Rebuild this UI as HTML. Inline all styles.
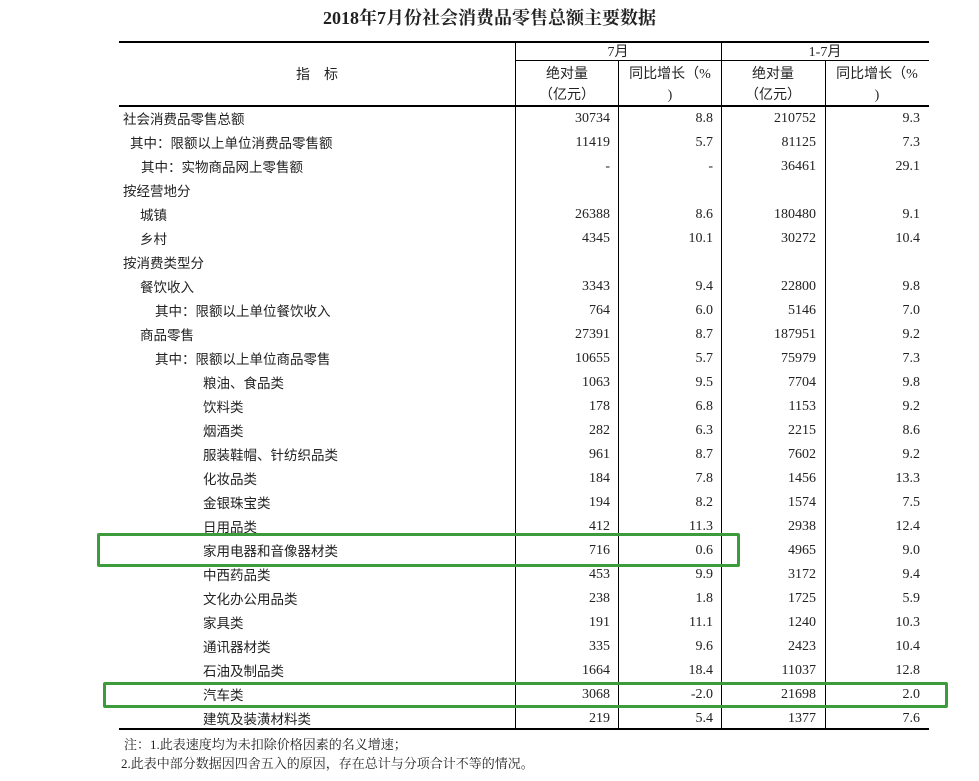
<!DOCTYPE html>
<html><head><meta charset="utf-8"><style>
body{margin:0;width:979px;height:781px;background:#fff;position:relative;overflow:hidden;font-family:"Liberation Serif","Noto Sans CJK SC",serif;color:#222}
.t{position:absolute;white-space:nowrap;font-size:14px;line-height:16px}
.h{position:absolute;background:#000}
.r{text-align:right}
.c{text-align:center}
.box{position:absolute;border:3px solid #3c9c3c;border-radius:2px}
</style></head><body>
<div class="t c" style="left:0;width:979px;top:8px;font-size:18px;line-height:20px;font-weight:bold;font-family:'Liberation Serif','Noto Serif CJK SC',serif">2018年7月份社会消费品零售总额主要数据</div>
<div class="h" style="left:119px;width:810px;top:41px;height:2px"></div>
<div class="h" style="left:515px;width:414px;top:60px;height:1px"></div>
<div class="h" style="left:119px;width:810px;top:105px;height:1.5px"></div>
<div class="h" style="left:119px;width:810px;top:728px;height:2px"></div>
<div class="h" style="left:515px;width:1px;top:42px;height:686px"></div>
<div class="h" style="left:618px;width:1px;top:61px;height:667px"></div>
<div class="h" style="left:721px;width:1px;top:42px;height:686px"></div>
<div class="h" style="left:825px;width:1px;top:61px;height:667px"></div>
<div class="t c" style="left:119px;width:396px;top:66px;font-family:'Noto Sans CJK SC',sans-serif">指　标</div>
<div class="t c" style="left:515px;width:206px;top:45px">7月</div>
<div class="t c" style="left:721px;width:208px;top:45px">1-7月</div>
<div id="hd"></div>
<div id="rows"></div>
<div class="box" style="left:97px;top:533px;width:637px;height:28px"></div>
<div class="box" style="left:103px;top:682px;width:839px;height:20px"></div>
<div class="t" style="left:124px;top:737px;font-size:13px;font-family:'Liberation Serif','Noto Serif CJK SC',serif">注：1.此表速度均为未扣除价格因素的名义增速；</div>
<div class="t" style="left:121px;top:756px;font-size:13px;font-family:'Liberation Serif','Noto Serif CJK SC',serif">2.此表中部分数据因四舍五入的原因，存在总计与分项合计不等的情况。</div>
<script>
var hd='';
[[515,'绝对量','（亿元）'],[618,'同比增长（%',')'],[721,'绝对量','（亿元）'],[825,'同比增长（%',')']].forEach(function(a){
hd+='<div class="t c" style="left:'+a[0]+'px;width:104px;top:67px">'+a[1]+'</div><div class="t c" style="left:'+a[0]+'px;width:104px;top:88px">'+a[2]+'</div>';});
document.getElementById('hd').outerHTML=hd;
var d=[[123,'社会消费品零售总额','30734','8.8','210752','9.3'],
[130,'其中：限额以上单位消费品零售额','11419','5.7','81125','7.3'],
[141,'其中：实物商品网上零售额','-','-','36461','29.1'],
[123,'按经营地分','','','',''],
[140,'城镇','26388','8.6','180480','9.1'],
[140,'乡村','4345','10.1','30272','10.4'],
[123,'按消费类型分','','','',''],
[140,'餐饮收入','3343','9.4','22800','9.8'],
[155,'其中：限额以上单位餐饮收入','764','6.0','5146','7.0'],
[140,'商品零售','27391','8.7','187951','9.2'],
[155,'其中：限额以上单位商品零售','10655','5.7','75979','7.3'],
[203,'粮油、食品类','1063','9.5','7704','9.8'],
[203,'饮料类','178','6.8','1153','9.2'],
[203,'烟酒类','282','6.3','2215','8.6'],
[203,'服装鞋帽、针纺织品类','961','8.7','7602','9.2'],
[203,'化妆品类','184','7.8','1456','13.3'],
[203,'金银珠宝类','194','8.2','1574','7.5'],
[203,'日用品类','412','11.3','2938','12.4'],
[203,'家用电器和音像器材类','716','0.6','4965','9.0'],
[203,'中西药品类','453','9.9','3172','9.4'],
[203,'文化办公用品类','238','1.8','1725','5.9'],
[203,'家具类','191','11.1','1240','10.3'],
[203,'通讯器材类','335','9.6','2423','10.4'],
[203,'石油及制品类','1664','18.4','11037','12.8'],
[203,'汽车类','3068','-2.0','21698','2.0'],
[203,'建筑及装潢材料类','219','5.4','1377','7.6']];
var h='';
d.forEach(function(r,i){var y=110+i*24;
h+='<div class="t" style="left:'+r[0]+'px;top:'+y+'px;font-family:\'Noto Sans CJK SC\',sans-serif;font-size:13.5px">'+r[1]+'</div>';
[[515,r[2]],[618,r[3]],[721,r[4]],[825,r[5]]].forEach(function(c){
h+='<div class="t r" style="left:'+c[0]+'px;width:95px;top:'+(y+1)+'px">'+c[1]+'</div>';});});
document.getElementById('rows').outerHTML=h;
</script>
</body></html>
